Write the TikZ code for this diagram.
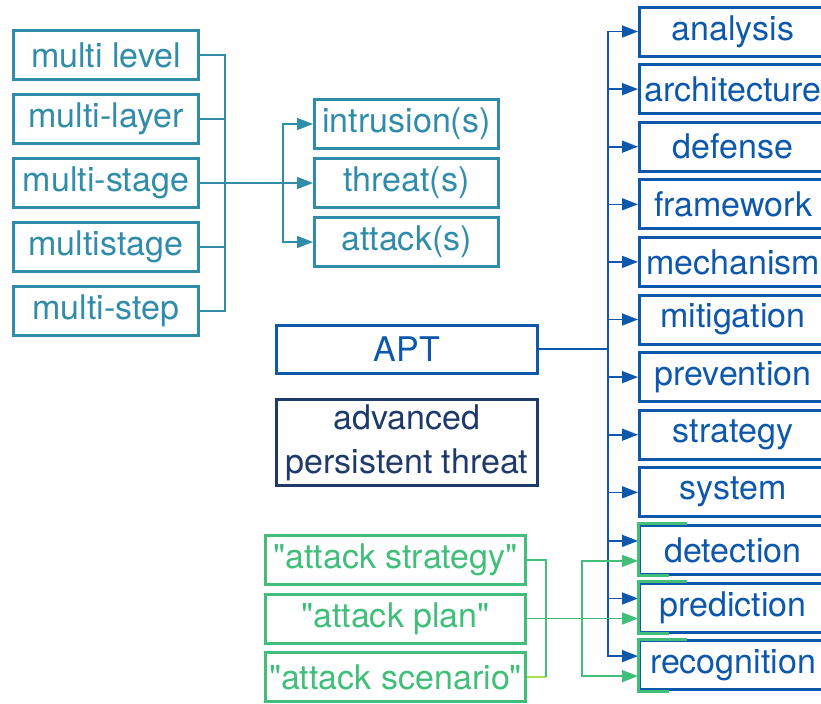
\documentclass[tikz,border=0pt]{standalone}
\usepackage{fontspec}
\setmainfont{TeX Gyre Heros}
\usetikzlibrary{arrows.meta}
\definecolor{aptteal}{RGB}{48,140,168}
\definecolor{aptblue}{RGB}{14,88,172}
\definecolor{aptgreen}{RGB}{64,190,122}
\definecolor{aptlime}{RGB}{170,224,70}
\definecolor{aptnavy}{RGB}{30,58,106}
\tikzset{
  term/.style={draw, line width=1.5pt, inner sep=0pt, minimum height=24.5pt,
    font=\fontsize{17}{22}\selectfont},
  tealterm/.style={term, aptteal, minimum width=92.5pt},
  blueterm/.style={term, aptblue, minimum width=93.5pt},
  greenterm/.style={term, aptgreen, minimum width=130pt},
  link/.style={line width=0.8pt},
  arrowlink/.style={link, -{Triangle[length=8pt,width=6pt]}},
}
\begin{document}
\begin{tikzpicture}[x=0.5pt,y=-0.5pt]
  \useasboundingbox (0,0) rectangle (821,703);
  % prefixes and attack kinds
  \foreach \t [count=\i] in {multi level,multi-layer,multi-stage,multistage,multi-step}
    \node[tealterm] (multi\i) at (106,{55+64*(\i-1)}) {\t};
  \foreach \t [count=\i] in {intrusion(s),threat(s),attack(s)}
    \node[tealterm, minimum width=92pt] (kind\i) at (406.5,{124+59*(\i-1)}) {\t};
  \coordinate (multibus) at (225,183);
  \coordinate (kindbus) at (283,183);
  \foreach \i in {1,2,4,5}
    \draw[link, aptteal] (multi\i.east) -| (multibus);
  \draw[link, aptteal] (multi3.east) -- (kindbus);
  \foreach \i in {1,2,3}
    \draw[arrowlink, aptteal] (kindbus) |- (kind\i.west);
  % APT
  \node[term, aptblue, minimum width=130.5pt, minimum height=24pt] (apt) at (407,349) {APT};
  \node[term, aptnavy, minimum width=130.5pt, minimum height=43pt, align=center]
    (long) at (407,442.5) {advanced\\persistent threat};
  % suffixes
  \foreach \t [count=\i] in {analysis,architecture,defense,framework,mechanism,mitigation,
      prevention,strategy,system,detection,prediction,recognition}
    \node[blueterm] (use\i) at (733,{31.5+57.6*(\i-1)}) {\t};
  \coordinate (usebus) at (608,349);
  \draw[link, aptblue] (apt.east) -- (usebus);
  \foreach \i in {1,...,9}
    \draw[arrowlink, aptblue] (usebus) |- (use\i.west);
  \foreach \i in {10,11,12}
    \draw[arrowlink, aptblue] (usebus) |- ([yshift=4.5pt]use\i.west);
  % quoted phrases
  \foreach \t [count=\i] in {attack strategy,attack plan,attack scenario}
    \node[greenterm] (phrase\i) at (395.5,{560+58.5*(\i-1)})
      {\textquotedbl\t\textquotedbl};
  \coordinate (phrasebus) at (546,618.5);
  \coordinate (detectbus) at (582,618.5);
  \draw[link, aptgreen] (phrase1.east) -| (phrasebus);
  \draw[link, aptlime] (phrase3.east) -- (phrase3.east -| phrasebus);
  \draw[link, aptgreen] (phrase3.east -| phrasebus) -- (phrasebus);
  \draw[link, aptgreen] (phrase2.east) -- (detectbus);
  \foreach \i in {10,11,12}
    \draw[arrowlink, aptgreen] (detectbus) |- ([yshift=-5.5pt]use\i.west);
  \foreach \i in {10,11,12}
    \draw[aptgreen, line width=1.5pt] ([xshift=24.5pt]use\i.north west)
      -- (use\i.north west) -- (use\i.south west) -- ([xshift=15.5pt]use\i.south west);
\end{tikzpicture}
\end{document}
